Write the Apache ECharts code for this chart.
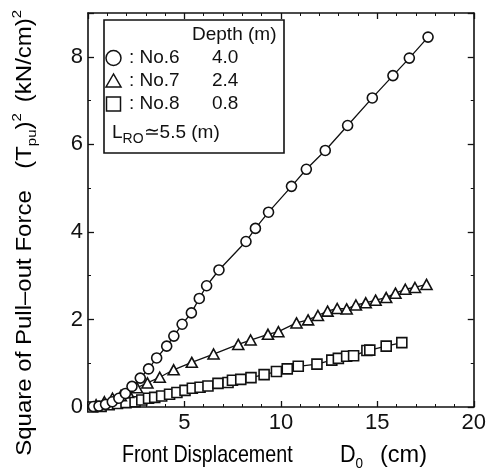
<!DOCTYPE html>
<html><head><meta charset="utf-8">
<script src="https://cdn.jsdelivr.net/npm/echarts@6/dist/echarts.min.js"></script>
<style>html,body{margin:0;padding:0;background:#fff}#c{width:489px;height:472px}</style>
</head><body><div id="c"></div>
<script>
// ---- data ----
const no6X = [0.28,0.57,0.91,1.26,1.60,1.94,2.28,2.71,3.14,3.56,4.08,4.45,4.88,5.36,5.77,6.15,6.79,8.19,8.68,9.36,10.55,11.32,12.30,13.46,14.74,15.81,16.66,17.63];
const no6Y = [0.01,0.02,0.06,0.12,0.20,0.31,0.47,0.66,0.87,1.12,1.39,1.62,1.89,2.15,2.48,2.77,3.13,3.78,4.08,4.45,5.04,5.43,5.86,6.43,7.06,7.57,7.97,8.45];
const no7X = [0.42,0.85,1.27,1.70,2.08,2.54,3.08,3.72,4.44,5.38,6.51,7.79,8.43,9.33,9.87,10.81,11.41,11.92,12.42,12.92,13.41,13.89,14.40,14.91,15.46,15.94,16.45,16.95,17.55];
const no7Y = [0.05,0.12,0.20,0.26,0.33,0.44,0.55,0.68,0.85,1.02,1.21,1.43,1.53,1.66,1.72,1.92,1.99,2.09,2.19,2.25,2.24,2.33,2.38,2.44,2.50,2.60,2.69,2.73,2.80];
const no8X = [0.25,0.68,1.10,1.53,1.97,2.44,2.79,3.14,3.46,3.82,4.23,4.61,5.03,5.41,5.81,6.22,6.74,7.26,7.49,7.92,8.45,9.13,9.77,10.33,10.90,11.87,12.64,12.98,13.41,13.77,14.46,14.61,15.46,16.27];
const no8Y = [0.00,0.01,0.05,0.08,0.10,0.12,0.16,0.20,0.22,0.25,0.29,0.33,0.38,0.43,0.45,0.48,0.54,0.56,0.61,0.63,0.67,0.74,0.81,0.87,0.93,0.98,1.07,1.11,1.16,1.17,1.29,1.30,1.39,1.47];
const seriesNames = ['No.6','No.7','No.8'];
const depths = ['4.0','2.4','0.8'];
const symbols = ['circle','triangle','rect'];
const xMin = 0, xMax = 20, xStep = 5;
const yMin = 0, yMax = 9, yStep = 2;

// ---- chart ----
const ink = '#111';
const font = '"Liberation Sans", Arial, Helvetica, sans-serif';
const zip = (xs, ys) => xs.map((x, i) => [x, ys[i]]);
const seriesData = [zip(no6X, no6Y), zip(no7X, no7Y), zip(no8X, no8Y)];

function xAxisDef(pos, labels) {
  return {
    type: 'value', position: pos, min: xMin, max: xMax, interval: xStep,
    axisLine: { show: true, onZero: false, lineStyle: { color: ink, width: 1.6 } },
    axisTick: { show: true, inside: true, length: 6, lineStyle: { color: ink, width: 1.3 } },
    minorTick: { show: true, splitNumber: 5, length: 3, lineStyle: { color: ink, width: 1 } },
    axisLabel: { show: labels, showMinLabel: false, fontSize: 22, color: ink, fontFamily: font, margin: 5 },
    splitLine: { show: false }
  };
}
function yAxisDef(pos, labels) {
  return {
    type: 'value', position: pos, min: yMin, max: yMax, interval: yStep,
    axisLine: { show: true, onZero: false, lineStyle: { color: ink, width: 1.6 } },
    axisTick: { show: true, inside: true, length: 6, lineStyle: { color: ink, width: 1.3 } },
    minorTick: { show: true, splitNumber: 2, length: 3, lineStyle: { color: ink, width: 1 } },
    axisLabel: { show: labels, showMaxLabel: false, fontSize: 22, color: ink, fontFamily: font, margin: 5 },
    splitLine: { show: false }
  };
}

const series = seriesData.map((d, i) => ({
  name: seriesNames[i], type: 'line', data: d,
  xAxisIndex: 0, yAxisIndex: 0,
  symbol: symbols[i], symbolSize: i === 1 ? [11, 10] : 10, showAllSymbol: true,
  lineStyle: { color: ink, width: 1.3 },
  itemStyle: { color: '#fff', borderColor: ink, borderWidth: 1.6 },
  z: 5 - i, animation: false
}));

// legend box (drawn as graphic)
const lg = [];
lg.push({ type: 'rect', shape: { x: 104, y: 20, width: 180, height: 133 }, style: { fill: '#fff', stroke: ink, lineWidth: 1.6 }, z: 10 });
lg.push({ type: 'text', x: 192, y: 35, style: { text: 'Depth (m)', font: '19px ' + font, fill: ink, verticalAlign: 'middle' }, z: 11 });
const rowY = [58, 81, 104];
symbols.forEach((s, i) => {
  const cx = 113.5, cy = rowY[i];
  if (s === 'circle') lg.push({ type: 'circle', shape: { cx, cy, r: 7.5 }, style: { fill: '#fff', stroke: ink, lineWidth: 1.5 }, z: 11 });
  if (s === 'triangle') lg.push({ type: 'polygon', shape: { points: [[cx, cy - 7], [cx - 7.5, cy + 6], [cx + 7.5, cy + 6]] }, style: { fill: '#fff', stroke: ink, lineWidth: 1.5 }, z: 11 });
  if (s === 'rect') lg.push({ type: 'rect', shape: { x: cx - 7, y: cy - 7, width: 14, height: 14 }, style: { fill: '#fff', stroke: ink, lineWidth: 1.5 }, z: 11 });
  lg.push({ type: 'text', x: 129, y: cy, style: { text: ': ' + seriesNames[i], font: '19px ' + font, fill: ink, verticalAlign: 'middle' }, z: 11 });
  lg.push({ type: 'text', x: 212, y: cy, style: { text: depths[i], font: '19px ' + font, fill: ink, verticalAlign: 'middle' }, z: 11 });
});
lg.push({ type: 'text', x: 112, y: 133, z: 11, style: {
  text: '{a|L}{s|RO}{a|≃5.5 (m)}', fill: ink, verticalAlign: 'middle',
  rich: { a: { fontSize: 19, fontFamily: font, color: ink, lineHeight: 26, verticalAlign: 'middle' },
          s: { fontSize: 14, fontFamily: font, color: ink, lineHeight: 14, verticalAlign: 'bottom' } } } });

// axis titles
const titleRich = {
  a: { fontSize: 24, fontFamily: font, color: ink, lineHeight: 32, verticalAlign: 'middle' },
  s: { fontSize: 15, fontFamily: font, color: ink, lineHeight: 15, verticalAlign: 'bottom' },
  p: { fontSize: 15, fontFamily: font, color: ink, lineHeight: 15, verticalAlign: 'top' }
};
const titles = [
  { type: 'text', x: 122, y: 455, scaleX: 0.82, style: { text: '{a|Front Displacement}', rich: titleRich, verticalAlign: 'middle' } },
  { type: 'text', x: 340, y: 455, scaleX: 0.9, style: { text: '{a|D}{s|0}', rich: titleRich, verticalAlign: 'middle' } },
  { type: 'text', x: 380, y: 455, scaleX: 0.98, style: { text: '{a|(cm)}', rich: titleRich, verticalAlign: 'middle' } },
  { type: 'text', x: 25, y: 323, rotation: Math.PI / 2, scaleY: 0.9, style: { text: '{a|Square of Pull–out Force}', rich: titleRich, align: 'center', verticalAlign: 'middle' } },
  { type: 'text', x: 25, y: 141, rotation: Math.PI / 2, scaleY: 0.9, style: { text: '{a|(T}{s|pu}{a|)}{p|2}', rich: titleRich, align: 'center', verticalAlign: 'middle' } },
  { type: 'text', x: 25, y: 56, rotation: Math.PI / 2, scaleY: 0.9, style: { text: '{a|(kN/cm)}{p|2}', rich: titleRich, align: 'center', verticalAlign: 'middle' } }
];

const chart = echarts.init(document.getElementById('c'));
chart.setOption({
  backgroundColor: '#fff',
  animation: false,
  grid: { left: 88, right: 11, top: 13, bottom: 65, containLabel: false },
  xAxis: [xAxisDef('bottom', true), xAxisDef('top', false)],
  yAxis: [yAxisDef('left', true), yAxisDef('right', false)],
  series: series,
  graphic: lg.concat(titles)
});
</script></body></html>
